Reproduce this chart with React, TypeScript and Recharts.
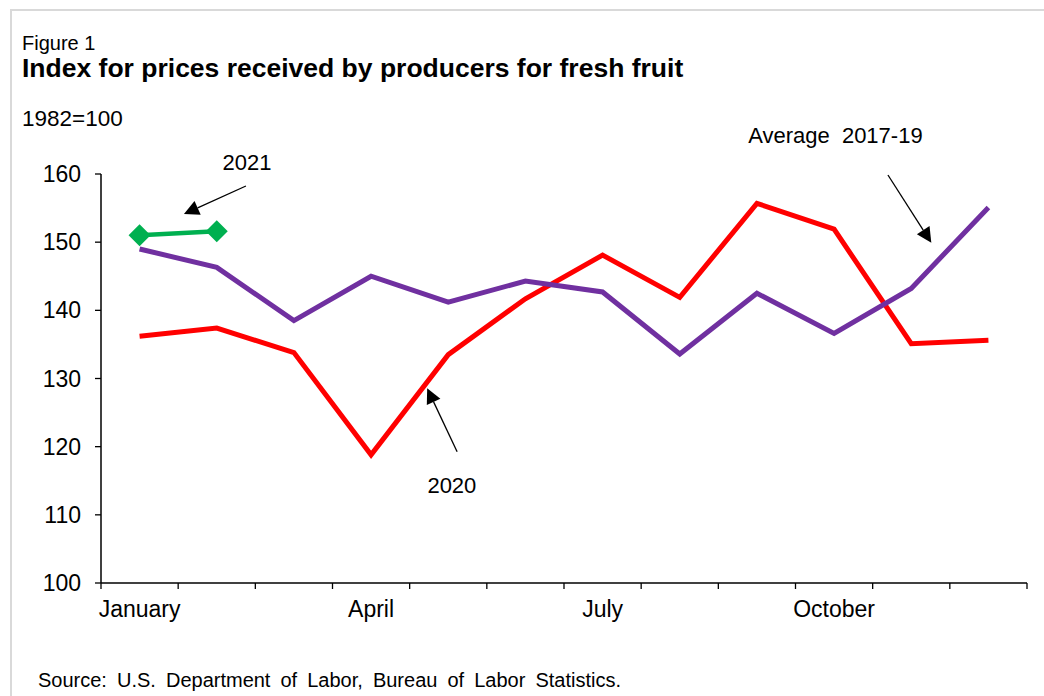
import React from 'react';
import { LineChart, Line, XAxis, YAxis, ReferenceLine, ReferenceDot } from 'recharts';

const months = ['January', 'February', 'March', 'April', 'May', 'June', 'July', 'August', 'September', 'October', 'November', 'December'];
const avg2017to19 = [149.0, 146.3, 138.5, 145.0, 141.2, 144.3, 142.7, 133.6, 142.5, 136.6, 143.2, 155.1];
const y2020 = [136.2, 137.4, 133.8, 118.8, 133.5, 141.7, 148.1, 141.9, 155.7, 151.9, 135.1, 135.6];
const y2021: (number | null)[] = [151.0, 151.6, null, null, null, null, null, null, null, null, null, null];
const yTicks = [100, 110, 120, 130, 140, 150, 160];
const monthLabelIdx = [0, 3, 6, 9];

const data = months.map((m, i) => ({
  x: i + 0.5,
  month: m,
  avg: avg2017to19[i],
  y2020: y2020[i],
  y2021: y2021[i],
}));

// annotations in data coordinates (x = month band index, y = index value)
const arrows = [
  { from: { x: 1.878, y: 158.24 }, to: { x: 1.075, y: 154.13 } },
  { from: { x: 4.615, y: 119.26 }, to: { x: 4.227, y: 128.56 } },
  { from: { x: 10.198, y: 159.85 }, to: { x: 10.76, y: 149.92 } },
];
const seriesLabels = [
  { text: '2021', x: 1.891, y: 160.58 },
  { text: '2020', x: 4.547, y: 113.2 },
  { text: 'Average\u00a0 2017-19', x: 9.517, y: 164.54 },
];

const FONT = '"Liberation Sans", Arial, sans-serif';

const ArrowShape = (props: any) => {
  const { x1, y1, x2, y2 } = props;
  const dx = x2 - x1;
  const dy = y2 - y1;
  const len = Math.sqrt(dx * dx + dy * dy) || 1;
  const ux = dx / len;
  const uy = dy / len;
  const head = 15;
  const hw = 7.5;
  const bx = x2 - ux * head;
  const by = y2 - uy * head;
  const px = -uy;
  const py = ux;
  return (
    <g>
      <line x1={x1} y1={y1} x2={bx} y2={by} stroke="#000" strokeWidth={1.3} />
      <polygon
        points={`${x2},${y2} ${bx + px * hw},${by + py * hw} ${bx - px * hw},${by - py * hw}`}
        fill="#000"
      />
    </g>
  );
};

const Diamond = (props: any) => {
  const { cx, cy, index } = props;
  if (cx == null || cy == null) return <g key={`d-${index}`} />;
  const r = 11;
  return (
    <polygon
      key={`d-${index}`}
      points={`${cx},${cy - r} ${cx + r},${cy} ${cx},${cy + r} ${cx - r},${cy}`}
      fill="#00B050"
    />
  );
};

export default function App() {
  return (
    <div
      style={{
        position: 'absolute',
        left: 0,
        top: 0,
        width: 1044,
        height: 696,
        overflow: 'hidden',
        background: '#fff',
        fontFamily: FONT,
      }}
    >
      <div
        style={{
          position: 'absolute',
          left: 10,
          top: 9,
          width: 1200,
          height: 900,
          border: '2px solid #d9d9d9',
        }}
      />
      <svg width={1044} height={696} style={{ position: 'absolute', left: 0, top: 0 }}>
        <text x={22} y={50} fontSize={20} fill="#000" fontFamily={FONT}>Figure 1</text>
        <text x={22} y={77} fontSize={26.5} fontWeight="bold" fill="#000" fontFamily={FONT}>
          Index for prices received by producers for fresh fruit
        </text>
        <text x={22} y={126} fontSize={22.5} fill="#000" fontFamily={FONT}>1982=100</text>
        <text x={38} y={687} fontSize={20} fill="#000" fontFamily={FONT} wordSpacing={4.5}>
          Source: U.S. Department of Labor, Bureau of Labor Statistics.
        </text>
      </svg>
      <div style={{ position: 'absolute', left: 0, top: 0 }}>
        <LineChart
          width={1044}
          height={696}
          data={data}
          margin={{ top: 174, right: 17, bottom: 67, left: 0 }}
        >
          <XAxis
            xAxisId="grid"
            dataKey="x"
            type="number"
            domain={[0, 12]}
            ticks={[0, 1, 2, 3, 4, 5, 6, 7, 8, 9, 10, 11, 12]}
            interval={0}
            tickFormatter={() => ''}
            tickSize={6}
            height={6}
            axisLine={{ stroke: '#000', strokeWidth: 1.5 }}
            tickLine={{ stroke: '#000', strokeWidth: 1.3 }}
            allowDataOverflow
          />
          <XAxis
            xAxisId="lab"
            dataKey="x"
            type="number"
            domain={[0, 12]}
            ticks={monthLabelIdx.map((i) => i + 0.5)}
            interval={0}
            tickFormatter={(v: number) => months[Math.round(v - 0.5)]}
            axisLine={false}
            tickLine={false}
            tickSize={0}
            tickMargin={12}
            height={40}
            tick={{ fontSize: 23, fill: '#000', fontFamily: FONT }}
            allowDataOverflow
          />
          <YAxis
            type="number"
            domain={[100, 160]}
            ticks={yTicks}
            interval={0}
            width={101}
            tickSize={6}
            tickMargin={14}
            axisLine={{ stroke: '#000', strokeWidth: 1.5 }}
            tickLine={{ stroke: '#000', strokeWidth: 1.3 }}
            tick={{ fontSize: 23, fill: '#000', fontFamily: FONT }}
            allowDataOverflow
          />
          <Line
            xAxisId="grid"
            dataKey="y2020"
            stroke="#FF0000"
            strokeWidth={5}
            dot={false}
            isAnimationActive={false}
          />
          <Line
            xAxisId="grid"
            dataKey="avg"
            stroke="#7030A0"
            strokeWidth={5}
            dot={false}
            isAnimationActive={false}
          />
          <Line
            xAxisId="grid"
            dataKey="y2021"
            stroke="#00B050"
            strokeWidth={4.5}
            dot={Diamond}
            activeDot={false}
            isAnimationActive={false}
          />
          {arrows.map((a, i) => (
            <ReferenceLine
              key={`arrow-${i}`}
              xAxisId="grid"
              segment={[a.from, a.to]}
              ifOverflow="visible"
              shape={ArrowShape}
            />
          ))}
          {seriesLabels.map((l, i) => (
            <ReferenceDot
              key={`lab-${i}`}
              xAxisId="grid"
              x={l.x}
              y={l.y}
              r={0}
              ifOverflow="visible"
              shape={(p: any) => (
                <text x={p.cx} y={p.cy} textAnchor="middle" fontSize={22} fill="#000" fontFamily={FONT}>
                  {l.text}
                </text>
              )}
            />
          ))}
        </LineChart>
      </div>
    </div>
  );
}
